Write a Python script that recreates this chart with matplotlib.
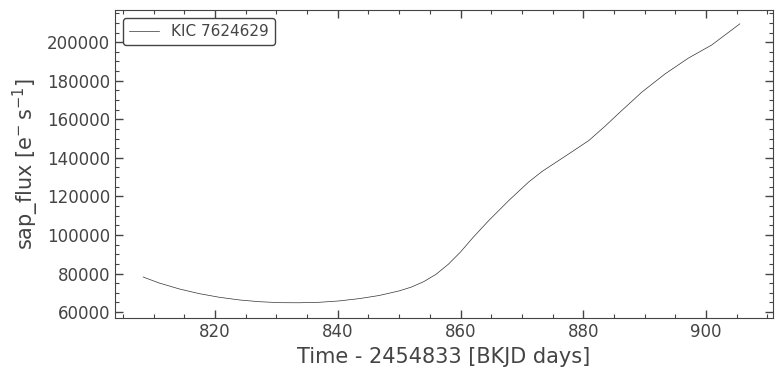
import numpy as np
import matplotlib
matplotlib.use('Agg')
import matplotlib.pyplot as plt
from matplotlib.ticker import MultipleLocator

# values
time = [808.3, 810.9, 814.2, 817.4, 820.7, 824.0, 827.2, 830.5, 833.7, 837.0,
        840.2, 843.5, 846.7, 850.0, 852.0, 854.0, 856.0, 858.0, 860.0, 862.0,
        864.6, 867.9, 871.1, 873.3, 877.6, 880.9, 883.5, 885.8, 889.5, 893.3,
        897.1, 900.9, 905.5]
flux = [78200, 75100, 72000, 69600, 67700, 66300, 65400, 64900, 64850, 65100,
        65800, 67000, 68600, 71000, 73000, 75800, 79600, 84800, 91200, 98600,
        107500, 118000, 127500, 133000, 142000, 149000, 156300, 163200, 174000, 183500,
        191700, 198500, 209500]
label = 'KIC 7624629'

txt = '#444444'
plt.rcParams['text.color'] = txt
plt.rcParams['axes.labelcolor'] = txt
plt.rcParams['xtick.color'] = txt
plt.rcParams['ytick.color'] = txt
plt.rcParams['axes.edgecolor'] = txt

fig = plt.figure(figsize=(7.82, 3.76), dpi=100)
ax = fig.add_axes([0.147, 0.154, 0.8415, 0.819])

ax.plot(time, flux, color='#333333', lw=0.5, label=label)

ax.set_xlim(803.7, 910.9)
ax.set_ylim(56900, 216600)
ax.xaxis.set_major_locator(MultipleLocator(20))
ax.xaxis.set_minor_locator(MultipleLocator(5))
ax.yaxis.set_major_locator(MultipleLocator(20000))
ax.yaxis.set_minor_locator(MultipleLocator(5000))
ax.tick_params(which='both', direction='in', top=True, right=True, labelsize=12)
ax.tick_params(which='major', length=6, width=1)
ax.tick_params(which='minor', length=3, width=0.8)

ax.set_xlabel('Time - 2454833 [BKJD days]', fontsize=15)
ax.set_ylabel(r'sap_flux [$\mathrm{e^{-}\,s^{-1}}$]', fontsize=15)

leg = ax.legend(loc='upper left', fontsize=11, framealpha=1)
leg.get_frame().set_edgecolor(txt)

fig.savefig('out.png', dpi=100)
